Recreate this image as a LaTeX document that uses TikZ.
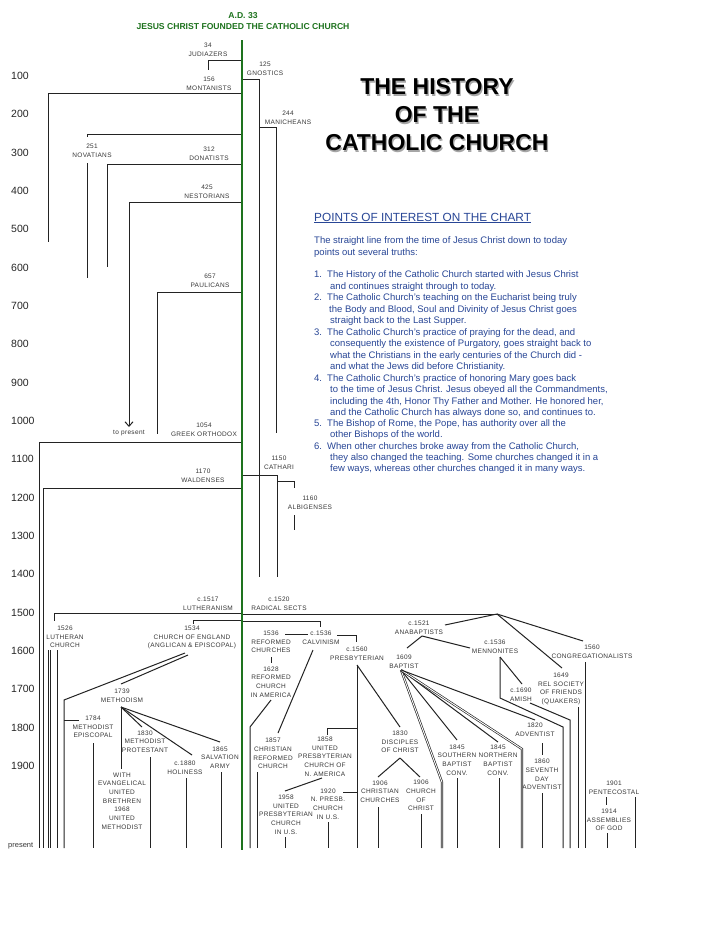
\documentclass[tikz,border=0pt]{standalone}
\usepackage{fontspec}
\setmainfont{Liberation Sans}
\newfontfamily\lblfont{Liberation Sans}[LetterSpace=5]
\usetikzlibrary{arrows.meta}
\definecolor{chgreen}{RGB}{30,115,30}
\definecolor{ptblue}{RGB}{40,70,150}
\definecolor{linegray}{RGB}{35,35,35}
\definecolor{labelgray}{RGB}{55,55,55}
\begin{document}
\begin{tikzpicture}[x=1pt,y=-1pt,
  lbl/.style={font=\lblfont\fontsize{6.5}{8.7}\selectfont, text=labelgray, align=center, inner sep=0pt},
  ln/.style={draw=linegray, line width=1pt},
  dbl/.style={draw=linegray, double=white, double distance=0.9pt, line width=0.65pt},
  yr/.style={font=\fontsize{10.5}{12}\selectfont, anchor=west, inner sep=0pt, text=black!85},
  pt/.style={font=\fontsize{9.5}{11}\selectfont, text=ptblue, anchor=base west, inner sep=0pt},
  ttl/.style={font=\bfseries\fontsize{23}{26}\selectfont, inner sep=0pt},
  ttlsh/.style={font=\bfseries\fontsize{23}{26}\selectfont, inner sep=0pt, text=black!35},
  gttl/.style={font=\bfseries\fontsize{8.6}{10}\selectfont, text=chgreen, inner sep=0pt}]
\fill[white] (0,0) rectangle (728,943);
\useasboundingbox (0,0) rectangle (728,943);

% header
\node[gttl] (ad) at (243,16) {A.D. 33};
\node[gttl] (jc) at (243,27) {JESUS CHRIST FOUNDED THE CATHOLIC CHURCH};

% title with light shadow
\node[ttlsh] (s1) at (438.2,88.2) {THE HISTORY};
\node[ttlsh] (s2) at (438.2,116.2) {OF THE};
\node[ttlsh] (s3) at (438.2,144.2) {CATHOLIC CHURCH};
\node[ttl] (t1) at (437,87) {THE HISTORY};
\node[ttl] (t2) at (437,115) {OF THE};
\node[ttl] (t3) at (437,143) {CATHOLIC CHURCH};

% century labels
\foreach \c [count=\k] in {100,200,300,400,500,600,700,800,900,1000,1100,1200,1300,1400,1500,1600,1700,1800,1900}
  \node[yr] (y\k) at (11,{37.5+38.33*\k}) {\c};
\node[font=\fontsize{7.5}{9}\selectfont, text=labelgray, anchor=west, inner sep=0pt] (present) at (8,846) {present};

% points of interest
\node[anchor=base west, inner sep=0pt, text=ptblue, font=\fontsize{11.8}{13}\selectfont] (p0) at (314,221) {\underline{POINTS OF INTEREST ON THE CHART}};
\node[pt] (p1) at (314,243.5) {The straight line from the time of Jesus Christ down to today};
\node[pt] (p2) at (314,255.5) {points out several truths:};
\node[pt] (p3) at (314,277.5) {\makebox[13pt][l]{1.}The History of the Catholic Church started with Jesus Christ};
\node[pt] (p4) at (330,289.5) {and continues straight through to today.};
\node[pt] (p5) at (314,300.5) {\makebox[13pt][l]{2.}The Catholic Church’s teaching on the Eucharist being truly};
\node[pt] (p6) at (329,312.5) {the Body and Blood, Soul and Divinity of Jesus Christ goes};
\node[pt] (p7) at (330,323.5) {straight back to the Last Supper.};
\node[pt] (p8) at (314,335.5) {\makebox[13pt][l]{3.}The Catholic Church’s practice of praying for the dead, and};
\node[pt] (p9) at (330,346.5) {consequently the existence of Purgatory, goes straight back to};
\node[pt] (p10) at (330,358.5) {what the Christians in the early centuries of the Church did -};
\node[pt] (p11) at (330,369.5) {and what the Jews did before Christianity.};
\node[pt] (p12) at (314,381.5) {\makebox[13pt][l]{4.}The Catholic Church’s practice of honoring Mary goes back};
\node[pt] (p13) at (330,392.5) {to the time of Jesus Christ. Jesus obeyed all the Commandments,};
\node[pt] (p14) at (330,404.5) {including the 4th, Honor Thy Father and Mother. He honored her,};
\node[pt] (p15) at (330,415.5) {and the Catholic Church has always done so, and continues to.};
\node[pt] (p16) at (314,426.5) {\makebox[13pt][l]{5.}The Bishop of Rome, the Pope, has authority over all the};
\node[pt] (p17) at (330,437.5) {other Bishops of the world.};
\node[pt] (p18) at (314,449.5) {\makebox[13pt][l]{6.}When other churches broke away from the Catholic Church,};
\node[pt] (p19) at (330,460.5) {they also changed the teaching. Some churches changed it in a};
\node[pt] (p20) at (330,471.5) {few ways, whereas other churches changed it in many ways.};

% ---------- early sects ----------
\node[lbl] (jud) at (208,49.5) {34\\JUDIAZERS};
\node[lbl] (gno) at (265,68.5) {125\\GNOSTICS};
\node[lbl] (mon) at (209,83.5) {156\\MONTANISTS};
\node[lbl] (man) at (288,117.5) {244\\MANICHEANS};
\node[lbl] (nov) at (92,150.5) {251\\NOVATIANS};
\node[lbl] (don) at (209,153.5) {312\\DONATISTS};
\node[lbl] (nes) at (207,192) {425\\NESTORIANS};
\node[lbl] (pau) at (210,281) {657\\PAULICANS};
\node[lbl] (topres) at (129,433) {to present};
\node[lbl] (gre) at (204,430) {1054\\GREEK ORTHODOX};
\node[lbl] (wal) at (203,475.5) {1170\\WALDENSES};
\node[lbl] (cat) at (279,462.5) {1150\\CATHARI};
\node[lbl] (alb) at (310,502.5) {1160\\ALBIGENSES};

\draw[ln] (242,60) -| (208,70);
\draw[ln] (242,79) -| (259,577);
\draw[ln] (259,127) -| (276,433);
\draw[ln] (242,93) -| (48.5,242);
\draw[ln] (242,134) -| (87,137);
\draw[ln] (87,163) -- (87,278);
\draw[ln] (242,164) -| (107,267);
\draw[ln,-{Straight Barb[length=4.5pt,width=8pt]}] (242,202) -| (129,427);
\draw[ln] (242,292) -| (157,434);
\draw[ln] (242,442) -| (39,848);
\draw[ln] (242,488) -| (43,848);
\draw[ln] (242,475) -| (277,577);
\draw[ln] (277,481) -| (294,488);
\draw[ln] (294,515) -- (294,530);

% ---------- reformation ----------
\node[lbl] (lutism) at (208,604) {c.1517\\LUTHERANISM};
\node[lbl] (rad) at (279,603.5) {c.1520\\RADICAL SECTS};
\node[lbl] (lutch) at (65,637) {1526\\LUTHERAN\\CHURCH};
\node[lbl] (coe) at (192,637.5) {1534\\CHURCH OF ENGLAND\\(ANGLICAN \& EPISCOPAL)};
\node[lbl] (meth) at (122,696) {1739\\METHODISM};
\node[lbl] (mepi) at (93,727) {1784\\METHODIST\\EPISCOPAL};
\node[lbl] (mprot) at (145,741.5) {1830\\METHODIST\\PROTESTANT};
\node[lbl] (hol) at (185,767.5) {c.1880\\HOLINESS};
\node[lbl] (salv) at (220,757.5) {1865\\SALVATION\\ARMY};
\node[lbl] (umc) at (122,801) {WITH\\EVANGELICAL\\UNITED\\BRETHREN\\1968\\UNITED\\METHODIST};

\draw[ln] (242,613) -| (54,621);
\draw[ln] (242,620) -| (193,624);
\draw[ln] (242,614) -- (497,614);
\draw[ln] (242,621) -| (320,627);
\draw[ln] (48.3,650) -- (48.3,848);
\draw[ln] (50.3,650) -- (50.3,848);
\draw[ln] (57,650) -- (57,848);
\draw[ln] (185,653) -- (64,700) -- (64,848);
\draw[ln] (188,655) -- (121,684);
\draw[ln] (64,720) -- (79,720);
\draw[ln] (93,743) -- (93,848);
\draw[ln] (121,707) -- (121,769);
\draw[ln] (121,707) -- (142,727);
\draw[ln] (121,707) -- (192,755);
\draw[ln] (121,707) -- (220,742);
\draw[ln] (150,757) -- (150,848);
\draw[ln] (186,778) -- (186,848);
\draw[ln] (221,772) -- (221,848);

% ---------- reformed / presbyterian ----------
\node[lbl] (refch) at (271,642) {1536\\REFORMED\\CHURCHES};
\node[lbl] (calv) at (321,637.5) {c.1536\\CALVINISM};
\node[lbl] (pres) at (357,654) {c.1560\\PRESBYTERIAN};
\node[lbl] (rca) at (271,682) {1628\\REFORMED\\CHURCH\\IN AMERICA};
\node[lbl] (crc) at (273,753.5) {1857\\CHRISTIAN\\REFORMED\\CHURCH};
\node[lbl] (upcna) at (325,756.5) {1858\\UNITED\\PRESBYTERIAN\\CHURCH OF\\N. AMERICA};
\node[lbl] (upcus) at (286,814.5) {1958\\UNITED\\PRESBYTERIAN\\CHURCH\\IN U.S.};
\node[lbl] (npc) at (328,804) {1920\\N. PRESB.\\CHURCH\\IN U.S.};
\node[lbl] (doc) at (400,742) {1830\\DISCIPLES\\OF CHRIST};
\node[lbl] (cc) at (380,791.5) {1906\\CHRISTIAN\\CHURCHES};
\node[lbl] (coc) at (421,795.5) {1906\\CHURCH\\OF\\CHRIST};

\draw[ln] (285,634) -- (308,634);
\draw[ln] (337,635) -| (356,642);
\draw[ln] (271,657) -- (271,663);
\draw[ln] (271,700) -- (250,727) -- (250,848);
\draw[ln] (313,650) -- (278,733);
\draw[ln] (257,772) -- (257,848);
\draw[ln] (357,665) -- (357,848);
\draw[ln] (357,665) -- (400,727);
\draw[ln] (357,728) -| (327,735);
\draw[ln] (322,778) -- (285,791);
\draw[ln] (285,837) -- (285,848);
\draw[ln] (343,792) -- (357,792);
\draw[ln] (328,822) -- (328,848);
\draw[ln] (400,758) -- (378,777);
\draw[ln] (400,758) -- (420,777);
\draw[ln] (378,807) -- (378,848);
\draw[ln] (421,814) -- (421,848);

% ---------- radical sects ----------
\node[lbl] (ana) at (419,627.5) {c.1521\\ANABAPTISTS};
\node[lbl] (bap) at (404,661.5) {1609\\BAPTIST};
\node[lbl] (sbc) at (457,760) {1845\\SOUTHERN\\BAPTIST\\CONV.};
\node[lbl] (nbc) at (498,760) {1845\\NORTHERN\\BAPTIST\\CONV.};
\node[lbl] (adv) at (535,730) {1820\\ADVENTIST};
\node[lbl] (sda) at (542,774.5) {1860\\SEVENTH\\DAY\\ADVENTIST};
\node[lbl] (men) at (495,646.5) {c.1536\\MENNONITES};
\node[lbl] (ami) at (521,695) {c.1690\\AMISH};
\node[lbl] (qua) at (561,689) {1649\\REL SOCIETY\\OF FRIENDS\\(QUAKERS)};
\node[lbl] (con) at (592,652) {1560\\CONGREGATIONALISTS};
\node[lbl] (pen) at (614,787.5) {1901\\PENTECOSTAL};
\node[lbl] (aog) at (609,820) {1914\\ASSEMBLIES\\OF GOD};

\draw[ln] (497,614) -- (445,625);
\draw[ln] (422,636) -- (407,648);
\draw[ln] (422,636) -- (470,648);
\draw[dbl] (401,670) -- (442,782) -- (442,848);
\draw[ln] (401,670) -- (457,740);
\draw[ln] (457,778) -- (457,848);
\draw[ln] (401,670) -- (498,742);
\draw[ln] (499,778) -- (499,848);
\draw[dbl] (401,670) -- (522,749) -- (522,848);
\draw[ln] (401,670) -- (535,720);
\draw[ln] (542,743) -- (542,755);
\draw[ln] (542,793) -- (542,848);
\draw[ln] (500,657) -- (522,684);
\draw[ln] (500,657) -- (500,698) -- (563,727) -- (563,848);
\draw[ln] (530,703) -- (570,720) -- (570,848);
\draw[ln] (497,614) -- (562,668);
\draw[ln] (578,707) -- (578,848);
\draw[ln] (497,614) -- (583,641);
\draw[ln] (585,662) -- (585,848);
\draw[ln] (606,797) -- (606,805);
\draw[ln] (607,833) -- (607,848);
\draw[ln] (635,797) -- (635,848);

% the Church
\draw[chgreen, line width=2.4pt] (242,40) -- (242,850);
\end{tikzpicture}
\end{document}
